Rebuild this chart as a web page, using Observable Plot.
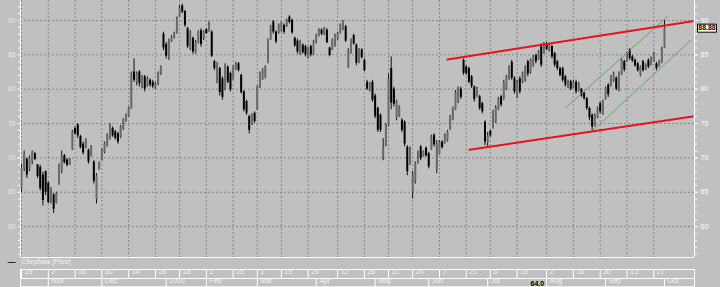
<!DOCTYPE html>
<html><head><meta charset="utf-8">
<script src="https://cdn.jsdelivr.net/npm/d3@7"></script>
<script src="https://cdn.jsdelivr.net/npm/@observablehq/plot@0.6"></script>
<style>
html,body{margin:0;padding:0;background:#c0c0c0;overflow:hidden;}
svg{display:block}
</style></head><body><div id="chart"></div>
<script>
// ---- data (trading-day index based) ----
const opens=[
65.5,68.5,69.8,68.3,69.5,70.6,69.0,68.6,67.5,68.0,
66.3,63.6,64.6,63.4,66.2,68.0,70.3,69.7,69.0,71.2,
74.3,74.8,73.1,72.0,71.4,71.1,70.2,69.4,64.0,68.3,
69.7,70.8,71.8,72.8,74.3,73.8,73.5,73.0,74.2,75.4,
76.0,77.2,82.5,81.0,82.5,80.5,81.8,80.4,81.3,81.0,
80.2,80.7,82.2,88.0,86.5,84.5,86.9,87.4,88.2,90.6,
92.1,91.3,88.8,86.0,87.4,85.3,86.8,88.5,87.3,88.7,
88.4,88.3,84.0,81.0,83.0,81.5,80.0,83.2,82.3,81.5,
82.8,83.7,82.0,79.6,78.2,76.0,74.8,76.5,77.0,80.3,
81.5,81.7,83.8,87.2,89.8,88.3,88.1,88.5,89.3,89.1,
90.5,90.0,87.4,87.0,85.0,86.4,86.2,84.6,86.2,85.0,
86.8,87.7,88.6,88.0,88.6,86.0,85.7,86.3,87.2,88.1,
88.7,89.1,83.2,85.3,87.8,86.4,83.9,85.7,84.2,81.0,
79.8,81.0,79.0,77.2,76.2,70.0,71.8,74.7,83.0,80.0,
75.8,76.0,75.5,75.2,71.5,69.0,65.0,66.5,69.3,71.6,
70.2,71.4,70.6,71.2,73.3,68.2,70.5,72.3,72.1,72.5,
74.1,75.5,77.0,78.0,80.0,84.2,83.2,83.0,81.8,80.3,
79.0,78.9,77.9,75.2,72.2,73.9,74.3,75.2,77.0,78.9,
78.5,80.0,81.5,83.9,81.6,78.8,81.5,81.0,81.2,84.0,
82.4,83.4,84.9,84.3,86.3,85.3,86.6,85.5,86.2,85.2,
84.0,83.0,83.0,81.8,80.3,81.1,80.2,81.0,79.8,80.0,
79.4,78.6,77.2,76.2,74.7,75.9,77.9,76.3,78.5,80.6,
80.4,81.2,81.6,79.8,82.2,84.0,84.0,85.7,84.7,84.2,
83.7,82.0,84.0,82.8,84.2,83.5,84.0,83.7,83.3,83.8,
86.0];
const highs=[
69.1,71.0,70.0,70.3,71.0,70.8,69.0,68.9,67.9,68.1,
66.5,65.7,64.8,65.0,69.1,71.0,70.5,69.9,69.9,74.0,
74.5,75.0,73.3,72.3,72.8,71.3,71.8,69.6,67.7,69.4,
71.3,72.3,73.5,75.0,74.5,74.0,73.7,74.7,75.7,76.4,
77.4,82.5,84.4,82.5,82.7,82.0,82.0,81.8,81.5,81.3,
81.0,82.5,83.4,88.3,86.8,87.3,87.8,88.3,90.5,92.2,
92.4,91.5,89.0,88.5,87.6,87.1,88.5,88.8,88.5,88.8,
89.8,88.5,84.2,83.9,83.2,81.8,83.7,83.4,82.5,83.4,
83.9,83.9,82.2,79.8,78.4,76.2,76.4,76.7,80.5,82.5,
83.0,83.4,87.3,89.3,90.0,88.5,89.5,89.8,89.5,90.2,
90.7,90.2,87.6,87.3,87.1,86.6,86.4,86.1,86.4,87.1,
88.0,88.8,88.8,89.0,88.8,86.1,87.3,88.0,88.3,89.5,
90.0,89.3,85.9,87.3,88.0,86.6,85.9,85.9,84.4,81.3,
81.0,81.3,79.3,77.4,76.4,72.8,75.0,82.2,84.7,80.3,
78.4,77.6,75.7,75.4,71.8,71.6,68.0,69.4,71.0,71.8,
71.0,71.6,70.8,73.3,73.5,72.5,72.5,72.5,73.5,74.0,
76.2,77.4,79.8,80.3,80.3,84.4,83.4,83.2,82.0,80.5,
80.3,79.1,78.1,75.4,73.7,74.0,76.9,77.6,78.8,79.1,
81.3,82.0,83.4,84.2,81.8,81.3,81.8,82.5,83.4,84.2,
84.4,84.9,85.1,85.6,86.6,86.8,86.8,86.6,86.4,85.4,
84.2,83.2,83.2,82.0,81.3,81.3,81.3,81.3,81.0,80.1,
79.6,78.8,77.4,76.4,76.4,77.4,78.1,78.4,80.3,80.8,
82.0,82.5,81.8,82.5,84.4,84.2,85.4,85.9,84.9,84.4,
83.9,83.4,84.2,83.7,84.4,84.7,85.4,83.9,84.2,86.1,
90.0];
const lows=[
64.9,68.0,67.0,68.0,69.0,69.6,67.0,65.2,63.0,64.5,
63.3,63.3,61.9,63.3,66.0,67.7,69.1,68.7,68.9,71.1,
73.3,72.8,71.3,70.4,71.3,69.1,70.1,66.2,63.3,68.2,
69.6,70.6,71.6,72.6,73.0,72.6,72.0,72.8,74.0,75.2,
75.9,77.1,81.0,80.5,80.3,80.1,79.6,80.3,80.3,80.1,
80.0,80.5,82.0,85.6,84.4,84.2,86.8,87.3,88.0,90.5,
91.0,89.0,85.9,85.6,85.1,85.1,86.6,86.1,87.1,88.0,
88.3,84.6,82.7,80.8,79.0,78.4,79.8,80.8,79.6,81.3,
82.7,82.5,79.3,76.7,76.2,73.5,74.7,75.0,76.9,80.1,
81.3,81.5,83.7,87.1,88.0,86.6,88.0,88.3,88.0,89.0,
89.5,88.0,86.1,85.1,84.9,85.1,84.7,84.4,84.7,84.9,
86.6,87.6,87.8,87.8,86.6,84.7,85.6,86.1,87.1,88.0,
88.5,86.8,83.0,85.1,86.4,83.4,83.7,84.4,82.5,79.8,
79.6,78.1,75.7,73.7,73.7,69.6,71.6,74.5,77.0,77.4,
75.4,75.9,73.7,71.6,67.4,68.9,64.0,66.2,69.1,69.6,
70.1,70.1,68.4,71.1,71.6,67.7,70.4,71.3,72.0,72.3,
74.0,75.4,76.9,77.9,78.5,82.0,82.0,80.8,80.1,78.1,
78.8,76.9,76.4,71.8,71.6,73.0,74.2,75.0,76.9,77.4,
78.4,79.8,81.3,81.3,79.3,78.6,79.3,80.8,81.0,81.8,
82.2,83.2,83.7,84.2,83.2,85.1,85.6,85.4,84.4,83.2,
82.7,81.8,81.0,80.3,80.1,79.8,80.1,79.3,79.6,78.8,
78.4,76.9,75.4,74.0,74.5,75.7,76.4,76.2,78.4,78.8,
80.3,81.0,79.8,79.6,82.0,82.5,83.9,84.2,83.9,83.2,
82.5,81.8,82.5,82.7,83.0,83.4,83.9,82.7,83.2,83.7,
85.9];
const closes=[
68.5,70.5,67.5,70.0,70.8,69.8,67.3,65.5,63.8,65.0,
63.5,65.4,62.5,64.8,68.8,70.2,69.3,68.9,69.8,73.8,
73.5,73.2,71.5,70.7,72.6,69.4,71.6,66.6,67.4,69.2,
71.1,72.1,73.3,74.6,73.2,72.8,72.3,74.5,75.5,76.2,
77.2,82.2,81.3,82.3,80.8,81.8,80.0,81.5,80.6,80.4,
80.8,82.3,83.2,86.0,84.8,87.0,87.6,88.1,90.3,91.8,
91.2,89.3,86.2,88.0,85.4,86.8,88.3,86.5,88.3,88.1,
89.5,84.8,83.0,83.5,79.5,78.8,83.4,81.0,79.9,83.2,
83.7,82.7,79.5,77.0,76.5,74.0,76.2,75.3,80.3,82.2,
82.8,83.2,87.0,89.0,88.3,86.9,89.3,89.6,88.3,90.0,
89.7,88.2,86.3,85.4,86.8,85.3,85.0,85.8,85.0,86.9,
87.8,88.6,88.0,88.8,86.8,84.9,87.1,87.8,88.1,89.3,
89.8,87.0,85.6,87.1,86.6,83.8,85.6,84.6,82.7,80.0,
80.8,78.4,76.0,74.0,74.0,71.5,74.8,81.5,78.0,77.8,
78.2,77.4,74.0,72.0,68.0,71.3,67.5,69.2,70.8,69.9,
70.9,70.3,68.7,73.0,71.9,72.0,72.3,71.5,73.3,73.8,
76.0,77.2,79.5,80.0,78.8,82.3,82.3,81.0,80.4,78.5,
80.0,77.2,76.7,72.3,73.2,73.2,76.7,77.3,78.5,77.7,
81.0,81.8,83.2,81.6,79.6,81.0,79.6,82.3,83.2,82.2,
84.2,84.7,84.0,85.4,83.5,86.6,85.8,86.4,84.7,83.5,
83.0,82.0,81.3,80.6,81.0,80.0,81.0,79.6,80.8,79.0,
78.6,77.2,75.8,74.5,76.2,77.2,76.7,78.2,80.1,79.2,
81.8,82.3,80.0,82.3,84.2,82.8,85.2,84.5,84.1,83.4,
82.7,83.2,82.7,83.5,83.2,84.5,85.2,83.0,84.0,85.9,
88.88];

// x axis: trading-day index of each tick, with labels
const dayTickIdx=[0,10,20,30,40,50,59,69,79,88,97,107,118,128,137,146,156,166,175,185,196,206,216,226,236];
const dayTickLabels=["19","2","16","30","14","28","18","1","15","1","15","29","12","26","11","24","7","21","5","19","2","16","30","13","27"];
const monthIdx=[10,30,54,69,88,110,132,152,174,196,218,240];
const monthLabels=["Nov","Dec","2010","Feb","Mar","Apr","May","Jun","Jul","Aug","Sep","Oct"];

// y axis ticks
const yMajor=[60,65,70,75,80,85,90];
const yMinor=[56,57,58,59,60,61,62,63,64,65,66,67,68,69,70,71,72,73,74,75,76,77,78,79,80,81,82,83,84,85,86,87,88,89,90,91,92];

// trend lines (index, price)
const redUpperX=[159.0,250.5], redUpperY=[84.32,89.9];
const redLowerX=[167.2,250.5], redLowerY=[71.18,76.03];
const greenUpperX=[203.3,241.1], greenUpperY=[77.34,90.58];
const greenLowerX=[213.0,249.7], greenLowerY=[73.89,87.09];

const legendLabel="Сбербанк [Price]";
const cursorLabel="64.0";
const cursorIdx=190;

// ---- chart ----
const xDomain=[-0.37,251.2];
const yDomain=[55.5,92.91];
const candles=opens.map((o,i)=>({i,o,h:highs[i],l:lows[i],c:closes[i]}));
const lastClose=closes[closes.length-1];
const pts=(xs,ys)=>xs.map((x,k)=>({x,y:ys[k]}));
const boxSymbol={draw(ctx){ctx.rect(-9.5,-4,19,8);}};
const grid="#858585";
const txt="#f4f4f4";

const chart=Plot.plot({
  width:720,height:287,
  marginLeft:20,marginRight:26,marginTop:0,marginBottom:30,
  style:{background:"#c0c0c0",fontFamily:"'Liberation Sans', Arial, sans-serif",fontSize:"7px",color:txt},
  x:{type:"linear",domain:xDomain,axis:null},
  y:{domain:yDomain},
  marks:[
    Plot.ruleY(yMajor,{stroke:grid,strokeDasharray:"2,2"}),
    Plot.ruleX(dayTickIdx,{stroke:grid,strokeDasharray:"2,2"}),
    // frame lines
    Plot.ruleX([xDomain[0],xDomain[1]],{stroke:"white"}),
    Plot.ruleY([yDomain[0]],{stroke:"white"}),
    // axes
    Plot.axisY(yMinor,{anchor:"right",tickSize:2,tickFormat:()=>"",color:"white"}),
    Plot.axisY(yMajor,{anchor:"right",tickSize:3,tickPadding:3,color:"white",fontSize:7}),
    Plot.axisY(yMinor,{anchor:"left",tickSize:2,tickFormat:()=>"",color:"white"}),
    Plot.axisY(yMajor,{anchor:"left",tickSize:3,tickPadding:2,color:"#e8e8e8",fontSize:7}),
    // candles
    Plot.ruleX(candles,{x:"i",y1:"l",y2:"h",stroke:"#111",strokeWidth:1}),
    Plot.ruleX(candles,{x:"i",y1:"o",y2:"c",stroke:d=>d.c>=d.o?"#6a6a6a":"#000",strokeWidth:2}),
    // trend lines
    Plot.line(pts(greenUpperX,greenUpperY),{x:"x",y:"y",stroke:"#5fa86a",strokeWidth:1}),
    Plot.line(pts(greenLowerX,greenLowerY),{x:"x",y:"y",stroke:"#5fa86a",strokeWidth:1}),
    Plot.line(pts(redUpperX,redUpperY),{x:"x",y:"y",stroke:"#e3141c",strokeWidth:2}),
    Plot.line(pts(redLowerX,redLowerY),{x:"x",y:"y",stroke:"#e3141c",strokeWidth:2}),
    // last price box
    Plot.dot([lastClose],{x:()=>xDomain[1],y:d=>d,dx:12.5,symbol:boxSymbol,fill:"white",stroke:"black",strokeWidth:1}),
    Plot.text([lastClose],{x:()=>xDomain[1],y:d=>d,dx:12.5,text:d=>d.toFixed(2),fill:"black",fontSize:7,fontWeight:"bold"}),
    // legend row
    Plot.text(["—"],{frameAnchor:"bottom-left",dx:-13,dy:6.5,textAnchor:"start",fill:"black",fontSize:8,fontWeight:"bold"}),
    Plot.text([legendLabel],{frameAnchor:"bottom-left",dx:1,dy:6.5,textAnchor:"start",fill:txt,fontSize:6.5}),
    // date rows
    Plot.frame({stroke:"white",insetTop:269,insetBottom:-29.5}),
    Plot.frame({stroke:"white",insetTop:278,insetBottom:-29.5}),
    Plot.ruleX(dayTickIdx,{stroke:"white",insetTop:269,insetBottom:-21}),
    Plot.ruleX(monthIdx,{stroke:"white",insetTop:278,insetBottom:-30}),
    Plot.text(dayTickIdx,{x:d=>d,text:(d,i)=>dayTickLabels[i],frameAnchor:"bottom",dy:16.5,dx:3,textAnchor:"start",fill:txt,fontSize:7}),
    Plot.text(monthIdx,{x:d=>d,text:(d,i)=>monthLabels[i],frameAnchor:"bottom",dy:25.5,dx:3,textAnchor:"start",fill:txt,fontSize:7}),
    Plot.text([cursorLabel],{x:()=>cursorIdx,frameAnchor:"bottom",dy:28,textAnchor:"start",fill:"black",fontSize:7,fontWeight:"bold"})
  ]
});
document.getElementById("chart").appendChild(chart);
</script>
</body></html>
